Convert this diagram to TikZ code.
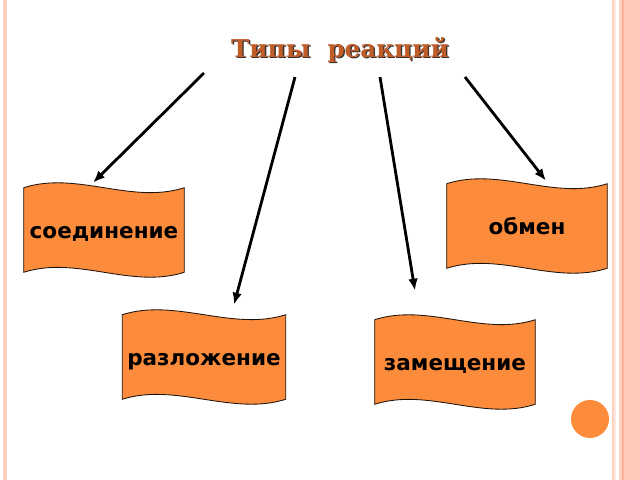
\documentclass[tikz,border=0pt]{standalone}
\usepackage{fontspec}
\setmainfont{DejaVu Serif}
\newfontfamily\flagfont{DejaVu Sans}
\usetikzlibrary{arrows.meta,backgrounds}

\definecolor{flagorange}{RGB}{252,139,60}
\definecolor{titlebrown}{RGB}{192,92,40}
\definecolor{edgepink}{RGB}{255,208,192}
\definecolor{edgesalmon}{RGB}{250,178,150}

\tikzset{
  flag/.style={minimum width=4cm,minimum height=2.1cm,text height=1.25em,text depth=0pt,
    font=\flagfont\bfseries\fontsize{15.3}{17}\selectfont},
  flagbody/.style={fill=flagorange,draw=black!85!brown,line width=0.6pt},
  reaction/.style={line width=2pt,-{Latex[length=3mm,width=2.4mm]}},
  heading/.style={font=\bfseries\fontsize{17.5}{20}\selectfont}
}

\begin{document}
\begin{tikzpicture}[x=0.025cm,y=-0.025cm]
  \useasboundingbox (0,0) rectangle (640,480);

  % page edges
  \fill[edgepink] (3,0) rectangle (7,480);
  \fill[edgepink] (611.5,0) rectangle (613.5,480);
  \fill[edgepink!50] (614,0) rectangle (615.5,480);
  \fill[edgepink] (619,0) rectangle (622,480);
  \fill[edgesalmon] (622,0) rectangle (624,480);
  \fill[edgepink!85!edgesalmon] (624,0) rectangle (640,480);

  \node[heading,text=black!80] at (341.3,51.3) {Типы~ реакций};
  \node[heading,text=titlebrown] (title) at (340,50) {Типы~ реакций};

  \coordinate (s1) at (204,73);
  \coordinate (s2) at (295,77);
  \coordinate (s3) at (380,77);
  \coordinate (s4) at (465,77);

  \node[flag] (soed)  at (104,230) {соединение};
  \node[flag] (obmen) at (527,226) {обмен};
  \node[flag] (razl)  at (204,357) {разложение};
  \node[flag] (zam)   at (455,362) {замещение};

  \begin{scope}[on background layer]
    \foreach \f in {soed,obmen,razl,zam}
      \draw[flagbody] (\f.north west) .. controls +(53,-17) and +(-53,17) .. (\f.north east)
        -- (\f.south east) .. controls +(-53,17) and +(53,-17) .. (\f.south west) -- cycle;
  \end{scope}

  \draw[reaction] (s1) -- ([shift={(-11,-5)}]soed.north);
  \draw[reaction] (s2) -- ([shift={(30,-10)}]razl.north);
  \draw[reaction] (s3) -- ([shift={(-40,-29)}]zam.north);
  \draw[reaction] (s4) -- ([shift={(19,-3)}]obmen.north);

  \fill[flagorange] (590,419) circle[radius=0.475cm];
\end{tikzpicture}
\end{document}
